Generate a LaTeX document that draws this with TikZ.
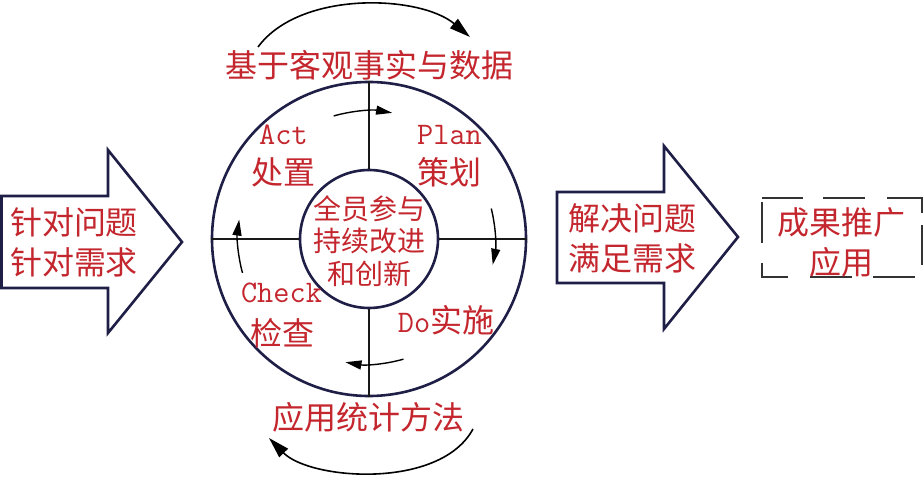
\documentclass[tikz,border=0pt]{standalone}
\usepackage{fontspec}
\setmainfont{Noto Sans CJK SC}
\usetikzlibrary{arrows.meta}
\definecolor{txtred}{HTML}{C4262E}
\definecolor{navy}{HTML}{1E1E46}
\begin{document}
\begin{tikzpicture}[x=1pt,y=1pt,
  big/.style={font=\fontsize{32}{40}\selectfont, text=txtred, inner sep=0pt, align=center},
  mid/.style={font=\fontsize{28}{32.5}\selectfont, text=txtred, inner sep=0pt, align=center},
  lat/.style={font=\fontsize{31.4}{36}\selectfont\ttfamily, text=txtred, inner sep=0pt},
  ring/.style={circle, draw=navy, line width=2.6pt, inner sep=0pt},
  outline/.style={draw=navy, line width=2.6pt, line join=miter, fill=white},
  divider/.style={draw=black!90, line width=2.6pt},
  turn/.style={draw=black, line width=1.6pt, -{Triangle[length=21pt,width=12pt]}},
  smallturn/.style={draw=black, line width=1.4pt, -{Triangle[length=16pt,width=9pt]}},
  boxline/.style={draw=black!80, line width=2.4pt, line cap=butt, line join=miter}
]
\useasboundingbox (0,0) rectangle (924,477);
\fill[white] (0,0) rectangle (924,477);

% left arrow
\draw[outline] (1.5,281) -- (108,281) -- (108,327) -- (182,235) -- (108,144) -- (108,189) -- (1.5,189) -- cycle;
\node[big] (need) at (74,235) {针对问题\\针对需求};

% right arrow
\draw[outline] (557,285) -- (664,285) -- (664,331) -- (738,240) -- (664,148) -- (664,194) -- (557,194) -- cycle;
\node[big] (solve) at (632,239) {解决问题\\满足需求};

% dashed box (drawn side by side, as in the reference)
\draw[boxline] (762,279) -- (803,279);
\draw[boxline] (823,279) -- (865,279);
\draw[boxline] (887,279) -- (922,279) -- (922,264);
\draw[boxline] (922,252) -- (922,212);
\draw[boxline] (915,200) -- (873,200);
\draw[boxline] (852,200) -- (810,200);
\draw[boxline] (788,200) -- (762,200) -- (762,214);
\draw[boxline] (762,234) -- (762,275);
\node[big] (promo) at (841,235) {成果推广\\应用};

% circles
\node[ring, minimum size=314pt] (outer) at (369,238) {};
\node[ring, minimum size=138pt] (inner) at (369,238) {};
\draw[divider] (outer.north) -- (inner.north);
\draw[divider] (outer.south) -- (inner.south);
\draw[divider] (outer.west) -- (inner.west);
\draw[divider] (outer.east) -- (inner.east);

\node[mid] (core) at (369,236) {全员参与\\持续改进\\和创新};

% quadrant labels
\node[lat] (act) at (283.5,342) {Act};
\node[big] (actzh) at (283.5,305) {处置};
\node[lat] (plan) at (449.5,342) {Plan};
\node[big] (planzh) at (449,305) {策划};
\node[lat] (check) at (281.5,184) {Check};
\node[big] (checkzh) at (282,144) {检查};
\node[big] (do) at (446,157) {{\fontsize{31.4}{36}\selectfont\ttfamily Do}实施};

% outer labels
\node[big] (facts) at (369.5,412) {基于客观事实与数据};
\node[big] (stats) at (368.5,60) {应用统计方法};

% big curved arrows
\coordinate (t0) at (258,430);
\coordinate (t1) at (470,440);
\draw[turn] (t0) .. controls (300,487) and (420,482) .. (t1);
\coordinate (b0) at (473,48);
\coordinate (b1) at (269,39);
\draw[turn] (b0) .. controls (440,-13) and (310,-3) .. (b1);

% small curved arrows
\draw[smallturn] ([shift={(106:128)}]outer.center) arc[start angle=106, end angle=80, radius=130];
\draw[smallturn] ([shift={(14:126)}]outer.center) arc[start angle=14, end angle=-11, radius=130];
\draw[smallturn] ([shift={(-74:125)}]outer.center) arc[start angle=-74, end angle=-100, radius=129];
\draw[smallturn] ([shift={(195:131)}]outer.center) arc[start angle=195, end angle=172, radius=134];
\end{tikzpicture}
\end{document}
